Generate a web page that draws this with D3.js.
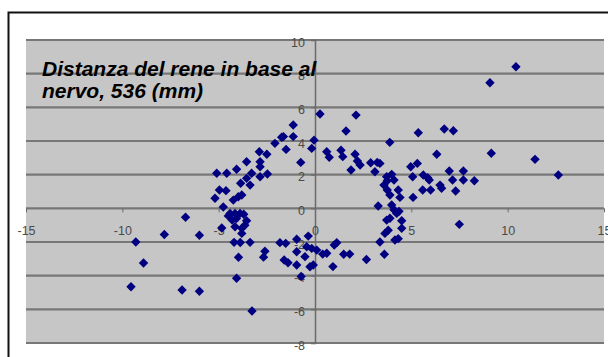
<!DOCTYPE html>
<html>
<head>
<meta charset="utf-8">
<script src="https://cdn.jsdelivr.net/npm/d3@7"></script>
<style>
  body { margin: 0; background: #fff; }
  svg { display: block; font-family: Arial, "Liberation Sans", sans-serif; }
  .tick text { fill: #4a4a4a; font-size: 12.5px; }
</style>
</head>
<body>
<svg id="chart"></svg>
<script>
// values
const xValues = [
  -9.30, -7.82, -8.90, -9.55, -6.90, -6.72, -6.00, -6.00,
  -4.07, -3.27, -3.97, -4.20, -3.88, -3.37, -2.60, -2.67,
  -5.19, -4.96, -4.62, -4.76, -4.84, -4.24, -3.98, -3.80, -4.41, -4.15, -3.89, -4.30,
  -4.08, -3.55, -3.64, -3.80, -3.80, -4.15, -4.50, -3.70,
  -5.10, -4.58, -4.07, -3.55, -2.89, -2.50, -2.08, -1.73, -1.50, -2.85, -2.85, -2.47,
  -2.85, -3.29, -3.55, -3.37, -3.86, -1.13, -1.64, -1.13, -0.05, -0.17, -0.74, 0.26,
  2.13, 1.61, 0.61, 0.74, 1.35, 1.44, 2.08, 2.20, 2.34, 1.87, 2.89, 3.23, 3.11, 3.88,
  5.36, 6.71, 7.18, 6.32, 9.15, 3.37, 4.97, 5.31, 5.07, 3.72, 3.98, 4.10, 3.75,
  5.62, 5.85, 5.93, 6.97, 7.14, 7.70, 7.70, 8.27, 6.49, 6.57, 5.59, 6.00, 7.30,
  5.09, 4.32, 4.41, 3.89, 3.98, 3.58, 3.75, 3.28, 10.43, 9.08, 11.42, 12.63, 7.49,
  4.24, 3.89, 4.50, 4.50, 3.63, 3.37, 4.15, 4.32, 3.60, 3.72, 4.10, 4.36, 3.80,
  -1.82, -1.52, -1.60, -1.40, -0.95, -0.35, -0.95, -0.43, -0.17, 0.09, 0.40, 0.61,
  -0.95, -0.52, -0.26, -0.09, -0.72, 0.93, 1.00, 1.13, 1.49, 1.80, 2.67
];
const yValues = [
  -2.00, -1.55, -3.25, -4.66, -4.85, -0.53, -1.60, -4.93,
  -4.15, -6.10, -2.91, -2.02, -2.03, -2.02, -2.55, -2.90,
  0.60, 1.09, 1.05, 0.08, -1.17, 0.49, 0.69, 0.79, -0.30, -0.30, -0.30, -0.70,
  -0.60, -0.74, -1.00, -1.19, -1.49, -1.09, -0.45, -0.35,
  2.08, 2.08, 2.32, 2.77, 3.36, 3.21, 3.86, 4.22, 3.50, 2.77, 2.47, 2.04,
  1.88, 2.08, 1.78, 1.38, 1.49, 4.95, 4.26, 4.26, 4.05, 3.56, 2.73, 5.60,
  5.54, 4.59, 3.36, 3.03, 3.45, 3.07, 3.21, 2.81, 2.57, 2.28, 2.71, 2.73, 2.17, 3.92,
  4.49, 4.71, 4.61, 3.21, 3.27, 2.67, 2.47, 2.67, 1.88, 1.88, 2.02, 1.68, 1.64,
  1.98, 1.82, 1.68, 2.22, 1.68, 2.22, 1.68, 1.64, 1.38, 1.19, 1.09, 1.09, 1.03,
  0.65, 1.09, 0.65, 0.79, 0.20, 1.38, 1.09, 0.14, 8.41, 7.46, 2.91, 1.98, -0.95,
  -0.30, -0.59, -0.74, -1.19, -1.49, -2.00, -1.88, -1.80, -2.73, -0.70, -0.08, -0.18, -1.30,
  -2.04, -2.08, -3.07, -3.23, -1.84, -1.65, -2.58, -2.28, -2.38, -2.48, -2.72, -2.67,
  -3.37, -2.87, -3.47, -3.37, -4.05, -3.46, -2.18, -2.04, -2.73, -2.72, -3.04
];
const xTicks = [-15, -10, -5, 0, 5, 10, 15];
const yTicks = [10, 8, 6, 4, 2, 0, -2, -4, -6, -8];
const titleLines = ["Distanza del rene in base al", "nervo, 536 (mm)"];

const points = xValues.map((x, i) => ({x: x, y: yValues[i]}));

const width = 608, height = 357;
const margin = {top: 40, right: 4, bottom: 14, left: 26};
const innerW = width - margin.left - margin.right;
const innerH = height - margin.top - margin.bottom;

const svg = d3.select('#chart')
    .attr('width', width)
    .attr('height', height);

// outer chart frame
svg.append('rect')
    .attr('x', 8.5)
    .attr('y', 12.5)
    .attr('width', 640)
    .attr('height', 400)
    .attr('fill', '#fff')
    .attr('stroke', '#111')
    .attr('stroke-width', 2);

const chart = svg.append('g')
    .attr('transform', `translate(${margin.left},${margin.top})`);

const xScale = d3.scaleLinear().domain([-15, 15]).range([0, innerW]);
const yScale = d3.scaleLinear().domain([-8, 10]).range([innerH, 0]);

chart.append('rect')
    .attr('width', innerW)
    .attr('height', innerH)
    .attr('fill', '#c6c6c6');

// horizontal gridlines
chart.selectAll('.grid')
    .data(yTicks)
    .join('line')
    .attr('class', 'grid')
    .attr('x1', 0)
    .attr('x2', innerW)
    .attr('y1', d => yScale(d))
    .attr('y2', d => yScale(d))
    .attr('stroke', '#777')
    .attr('stroke-width', 2.2);

// y axis sits on x = 0
const yAxisG = chart.append('g')
    .attr('transform', `translate(${xScale(0)},0)`)
    .call(d3.axisLeft(yScale).tickValues(yTicks).tickFormat(d => String(d)).tickSize(4).tickPadding(6));
yAxisG.select('.domain').attr('stroke', '#6a6a6a').attr('stroke-width', 1.5);
yAxisG.selectAll('.tick line').attr('stroke', '#6a6a6a');
yAxisG.selectAll('.tick text').attr('dy', '0.5em');

// x axis sits on y = 0
const xAxisG = chart.append('g')
    .attr('transform', `translate(0,${yScale(0)})`)
    .call(d3.axisBottom(xScale).tickValues(xTicks).tickFormat(d => String(d)).tickSize(4).tickPadding(14));
xAxisG.select('.domain').remove();
xAxisG.selectAll('.tick line').attr('stroke', '#6a6a6a');

// points
chart.selectAll('.point')
    .data(points)
    .join('path')
    .attr('class', 'point')
    .attr('d', 'M0,-4.7L4.7,0L0,4.7L-4.7,0Z')
    .attr('transform', d => `translate(${xScale(d.x)},${yScale(d.y)})`)
    .attr('fill', '#000080');

// title inside the plot
svg.append('text')
    .attr('x', 42)
    .attr('y', 76)
    .attr('font-size', 21)
    .attr('font-weight', 'bold')
    .attr('font-style', 'italic')
    .attr('fill', '#000')
    .selectAll('tspan')
    .data(titleLines)
    .join('tspan')
    .attr('x', 42)
    .attr('dy', (d, i) => i === 0 ? 0 : 22)
    .text(d => d);
</script>
</body>
</html>
